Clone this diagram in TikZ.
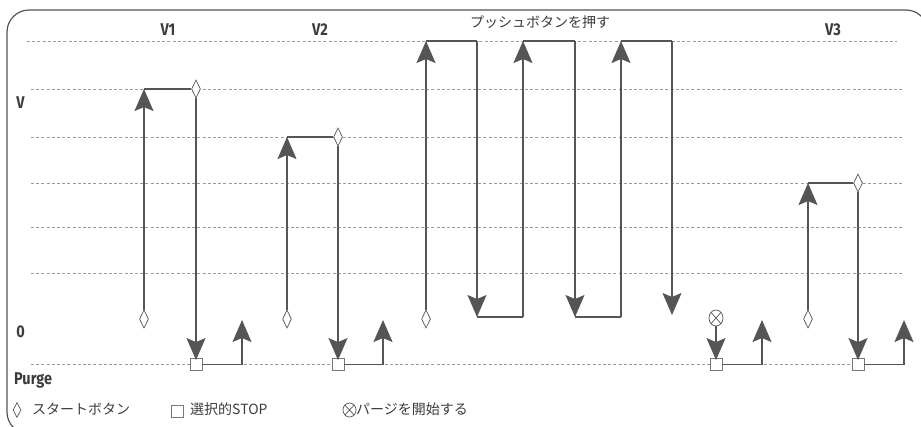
\documentclass[tikz,border=0pt]{standalone}
\usepackage{fontspec}
\newfontfamily\jp{Noto Sans CJK JP}
\newfontfamily\cond[FakeStretch=0.85]{Fira Sans}
\usetikzlibrary{arrows.meta,shapes.geometric}
\definecolor{ln}{HTML}{555555}
\definecolor{gr}{HTML}{9A9A9A}
\definecolor{tx}{HTML}{3C3C3C}
\begin{document}
\begin{tikzpicture}[x=1pt,y=-1pt,
 gridline/.style={gr, line width=0.9pt, dash pattern=on 3pt off 2.2pt},
 flow/.style={draw=ln, line width=1.5pt},
 arr/.style={flow, -{Stealth[length=22pt,width=19pt,inset=4pt]}},
 startd/.style={diamond, draw=ln, fill=white, line width=0.7pt, minimum width=9pt, minimum height=18pt, inner sep=0pt},
 stopsq/.style={rectangle, draw=ln!80, fill=white, line width=0.8pt, minimum size=12pt, inner sep=0pt},
 purgec/.style={ellipse, draw=ln, line width=0.7pt, minimum width=14pt, minimum height=16pt, inner sep=0pt, fill=white,
   path picture={\draw[ln, line width=0.7pt] (path picture bounding box.north west) -- (path picture bounding box.south east)
     (path picture bounding box.north east) -- (path picture bounding box.south west);}},
 lab/.style={text=tx, font=\cond\bfseries\fontsize{17}{20}\selectfont, inner sep=0pt},
 jtxt/.style={text=tx, font=\jp\fontsize{14}{17}\selectfont, inner sep=0pt},
]
\clip (0,0) rectangle (921,426);
% frame
\draw[ln, line width=1.2pt, rounded corners=22pt] (7,10) rectangle (928,434);
% grid lines
\draw[gridline] (27,41) -- (897,41);
\foreach \yy in {89,137,183,227,273,364}{\draw[gridline] (31,\yy) -- (902,\yy);}
% labels
\node[lab] (lv1) at (168,29.5) {V1};
\node[lab] (lv2) at (320,29.5) {V2};
\node[lab] (lv3) at (833,29.5) {V3};
\node[jtxt, anchor=west] (lpush) at (470,22) {プッシュボタンを押す};
\node[lab] (lv) at (20.5,103) {V};
\node[lab] (l0) at (20.5,332) {0};
\node[lab, anchor=base west] (lpurge) at (14,384.5) {Purge};
% legend
\node[startd, minimum width=8pt, minimum height=15pt] (kd) at (17,410) {};
\node[jtxt, anchor=west] (kdt) at (32,409) {スタートボタン};
\node[stopsq] (ks) at (177,411) {};
\node[jtxt, anchor=west] (kst) at (190,409) {選択的STOP};
\node[purgec, minimum width=13pt, minimum height=14pt] (kp) at (349.5,410) {};
\node[jtxt, anchor=west] (kpt) at (356,409) {パージを開始する};

% ---------- V1
\node[startd] (sd1) at (144,319) {};
\coordinate (v1a) at (144,89);
\node[startd] (d1) at (196,89) {};
\node[stopsq] (sq1) at (196,364.5) {};
\coordinate (u1) at (242,320);
\draw[arr] (sd1.north) -- (v1a);
\draw[flow] (v1a) -- (d1.west);
\draw[arr] (d1.south) -- ([yshift=-2pt]sq1.north);
\draw[arr] (sq1.east) -| (u1);

% ---------- V2
\node[startd] (sd2) at (287,319) {};
\coordinate (v2a) at (287,137);
\node[startd] (d2) at (338,137) {};
\node[stopsq] (sq2) at (338,364.5) {};
\coordinate (u2) at (383,320);
\draw[arr] (sd2.north) -- (v2a);
\draw[flow] (v2a) -- (d2.west);
\draw[arr] (d2.south) -- ([yshift=-2pt]sq2.north);
\draw[arr] (sq2.east) -| (u2);

% ---------- push button
\node[startd] (sd3) at (426,319) {};
\coordinate (p1) at (426,41);
\coordinate (p2) at (477,41);
\coordinate (p3) at (477,317);
\coordinate (p4) at (523,317);
\coordinate (p5) at (523,41);
\coordinate (p6) at (575,41);
\coordinate (p7) at (575,317);
\coordinate (p8) at (621,317);
\coordinate (p9) at (621,41);
\coordinate (p10) at (672,41);
\coordinate (p11) at (672,315);
\draw[arr] (sd3.north) -- (p1);
\draw[flow] (p1) -- (p2);
\draw[arr] (p2) -- (p3);
\draw[flow] (p3) -- (p4);
\draw[arr] (p4) -- (p5);
\draw[flow] (p5) -- (p6);
\draw[arr] (p6) -- (p7);
\draw[flow] (p7) -- (p8);
\draw[arr] (p8) -- (p9);
\draw[flow] (p9) -- (p10);
\draw[arr] (p10) -- (p11);

% ---------- purge
\node[purgec] (ps) at (716,318) {};
\node[stopsq] (sq4) at (716,364.5) {};
\coordinate (u4) at (762,320);
\draw[arr] (ps.south) -- ([yshift=-2pt]sq4.north);
\draw[arr] (sq4.east) -| (u4);

% ---------- V3
\node[startd] (sd5) at (808,319) {};
\coordinate (v3a) at (808,183);
\node[startd] (d5) at (858,183) {};
\node[stopsq] (sq5) at (858,364.5) {};
\coordinate (u5) at (904,320);
\draw[arr] (sd5.north) -- (v3a);
\draw[flow] (v3a) -- (d5.west);
\draw[arr] (d5.south) -- ([yshift=-2pt]sq5.north);
\draw[arr] (sq5.east) -| (u5);
\end{tikzpicture}
\end{document}
